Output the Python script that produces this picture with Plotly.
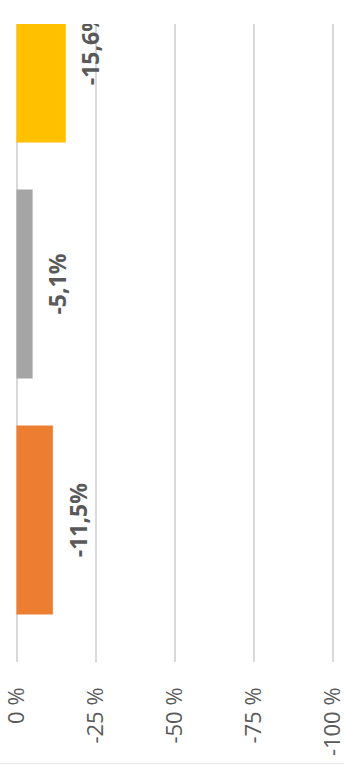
import plotly.graph_objects as go

categories = ["Serie 3", "Serie 2", "Serie 1"]
values = [-15.6, -5.1, -11.5]
labels = ["-15,6%", "-5,1%", "-11,5%"]
colors = ["#FFC000", "#A5A5A5", "#ED7D31"]
tick_vals = [0, -25, -50, -75, -100]
tick_text = ["0 %", "-25 %", "-50 %", "-75 %", "-100 %"]

label_pad = 1.8  # gap between bar end and its label, in axis units

fig = go.Figure()
fig.add_trace(go.Bar(
    y=categories, x=values, orientation="h",
    marker=dict(color=colors, line=dict(width=0)),
    width=0.8, hoverinfo="skip", showlegend=False,
))
fig.add_trace(go.Bar(
    y=categories, x=[v - label_pad for v in values], orientation="h",
    marker=dict(color="rgba(0,0,0,0)", line=dict(width=0)),
    width=0.8, text=labels, textposition="outside", textangle=-90,
    textfont=dict(family="Open Sans", size=23, color="#595959", weight="bold"),
    cliponaxis=True, hoverinfo="skip", showlegend=False,
))

fig.update_layout(
    width=344, height=767,
    margin=dict(l=14, r=9, t=24, b=105),
    barmode="overlay",
    paper_bgcolor="white", plot_bgcolor="white",
    xaxis=dict(
        range=[0.79, -100.79], tickvals=tick_vals, ticktext=tick_text,
        tickangle=-90, showgrid=True, gridcolor="#D9D9D9", gridwidth=1.5,
        zeroline=False, showline=False, ticks="", ticklabelstandoff=20,
        ticklabeloverflow="allow", automargin=False,
        tickfont=dict(family="Open Sans", size=22, color="#595959"),
    ),
    yaxis=dict(
        type="category", categoryorder="array", categoryarray=categories,
        range=[2.6017, -0.1017], showticklabels=False, showgrid=False,
        zeroline=False, showline=False, ticks="", automargin=False,
    ),
    shapes=[dict(type="line", xref="paper", yref="paper", x0=-0.06, x1=1.04,
                 y0=-0.159, y1=-0.159, line=dict(color="#E6E6E6", width=1))],
)

fig.write_html("out.html")
